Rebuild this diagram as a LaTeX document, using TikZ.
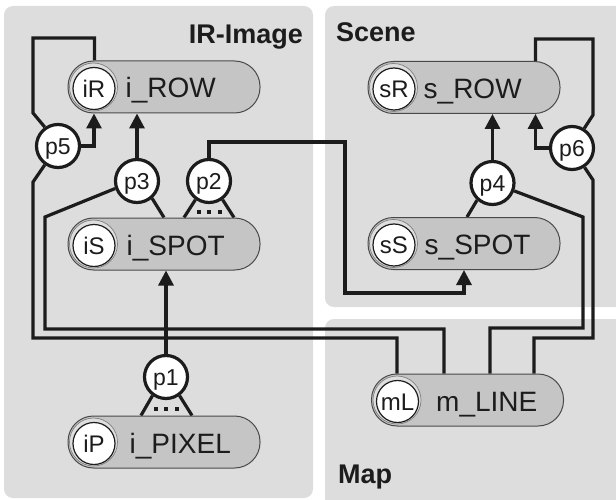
\documentclass[tikz,border=0pt]{standalone}
\usepackage{fontspec}
\setmainfont{Liberation Sans}
\usetikzlibrary{arrows.meta,calc}
\pgfdeclarelayer{panel}
\pgfdeclarelayer{wires}
\pgfsetlayers{panel,wires,main}
\definecolor{panelgray}{RGB}{221,221,221}
\definecolor{pillgray}{RGB}{197,197,197}
\definecolor{ink}{RGB}{28,28,28}
\definecolor{ringgray}{RGB}{222,222,222}
\tikzset{
  panelbox/.style={fill=panelgray, rounded corners=9pt},
  pillbox/.style={draw=ink!80, line width=1pt, fill=pillgray, minimum width=192pt,
    minimum height=52pt, rounded corners=25.5pt, inner sep=0pt},
  ringdisc/.style={fill=ringgray, draw=black!50, line width=0.7pt},
  tagcircle/.style={circle, draw=ink, line width=1.2pt, fill=white, minimum size=42pt,
    inner sep=0pt, font=\fontsize{24}{24}\selectfont, text=ink, text height=17.2pt, text depth=0pt},
  pcircle/.style={circle, draw=ink, line width=3.2pt, fill=white, minimum size=43pt,
    inner sep=0pt, font=\fontsize{23}{23}\selectfont, text=ink, text height=16.5pt, text depth=0pt},
  wire/.style={draw=ink, line width=3.2pt},
  arrowwire/.style={wire, -{Triangle[length=15pt,width=15pt]}},
  pilltext/.style={font=\fontsize{28}{28}\selectfont, text height=20pt, text depth=0pt,
    inner sep=0pt, anchor=west, text=ink},
  titletext/.style={font=\bfseries\fontsize{27}{27}\selectfont, inner sep=0pt, text=ink},
  dotsq/.style={fill=ink, minimum size=4pt, inner sep=0pt},
}
\newcommand\mkpill[6]{%
  \node[pillbox] (#1) at (#2,#3) {};
  \path[ringdisc] ($(#1.west)+(26,0)$) circle[radius=24];
  \node[tagcircle] (#1c) at ($(#1.west)+(26.5,1.5)$) {#4};
  \node[pilltext] (#1t) at ($(#1.west)+(#6,1)$) {#5};
}
\begin{document}
\begin{tikzpicture}[x=1pt,y=-1pt]
\useasboundingbox (0,0) rectangle (616,500);
\begin{pgfonlayer}{panel}
  \begin{scope}
    \clip (0,0) rectangle (616,500);
    \path[panelbox] (4,6) rectangle (313,498);
    \path[panelbox] (325,6) rectangle (650,307);
    \path[panelbox] (325,319) rectangle (650,530);
  \end{scope}
\end{pgfonlayer}

% titles
\node[titletext, anchor=base east] (tIR) at (303,44) {IR-Image};
\node[titletext, anchor=base west] (tSc) at (336,42) {Scene};
\node[titletext, anchor=base west] (tMap) at (338,483) {Map};

% pills
\mkpill{iRow}{164}{87}{iR}{i\_ROW}{58}
\mkpill{iSpot}{164}{244}{iS}{i\_SPOT}{59}
\mkpill{iPixel}{164}{442}{iP}{i\_PIXEL}{62}
\mkpill{sRow}{464}{87.5}{sR}{s\_ROW}{56}
\mkpill{sSpot}{464}{243.5}{sS}{s\_SPOT}{57}
\mkpill{mLine}{467.5}{400}{mL}{m\_LINE}{65}

% p circles
\node[pcircle] (p5) at (58,146) {p5};
\node[pcircle] (p3) at (137,181) {p3};
\node[pcircle] (p2) at (209,181) {p2};
\node[pcircle] (p1) at (166,377) {p1};
\node[pcircle] (p4) at (492.5,183) {p4};
\node[pcircle] (p6) at (572,148) {p6};

\coordinate (p1L) at ($(p1)+(-25,0)$);
\coordinate (p1R) at ($(p1)+(26,0)$);
\coordinate (p2L) at ($(p2)+(-25,0)$);
\coordinate (p2R) at ($(p2)+(25,0)$);

% dots
\foreach \d/\dx in {a/-10.5,b/0,c/10.5}{
  \node[dotsq] (p1dot\d) at ($(p1)+(\dx,32)$) {};
  \node[dotsq] (p2dot\d) at ($(p2)+(\dx,31)$) {};
}

\begin{pgfonlayer}{wires}
  % p5
  \draw[arrowwire] (p5.east) -| (iRowc |- iRow.south);
  \draw[wire] (p5.125) -- (33,113) -- (33,38) -| ($(iRow.north west)+(27,0)$);
  \draw[wire] (p5.235) -- (33,182) -- (33,338) -| ($(mLine.north west)+(26,0)$);
  % p3
  \draw[arrowwire] (p3.north) -- (p3 |- iRow.south);
  \draw[wire] (p3.199) -- (45,217) -- (45,329) -| ($(mLine.north west)+(73,0)$);
  \draw[wire] (p3.311) -- (iSpot.north);
  % p2
  \draw[wire] (p2.234) -- (p2L |- iSpot.north);
  \draw[wire] (p2.306) -- (p2R |- iSpot.north);
  \draw[arrowwire] (p2.north) |- (345,142) -- (345,293) -| (sSpot.south);
  % p1
  \draw[wire] (p1.234) -- (p1L |- iPixel.north);
  \draw[wire] (p1.306) -- (p1R |- iPixel.north);
  \draw[arrowwire] (p1.north) -- (p1 |- iSpot.south);
  % p4
  \draw[arrowwire] (p4.north) -- (p4 |- sRow.south);
  \draw[wire] (p4.228) -- ($(sSpot.north)+(3,0)$);
  \draw[wire] (p4.340) -- (583,217) -- (583,328) -| ($(mLine.north west)+(119,0)$);
  % p6
  \draw[arrowwire] (p6.west) -| ($(sRow.south east)+(-25,0)$);
  \draw[wire] (p6.58) -- (593,115) -- (593,39) -| ($(sRow.north east)+(-25,0)$);
  \draw[wire] (p6.303) -- (593,180) -- (593,338) -| ($(mLine.north west)+(163,0)$);
\end{pgfonlayer}
\end{tikzpicture}
\end{document}
